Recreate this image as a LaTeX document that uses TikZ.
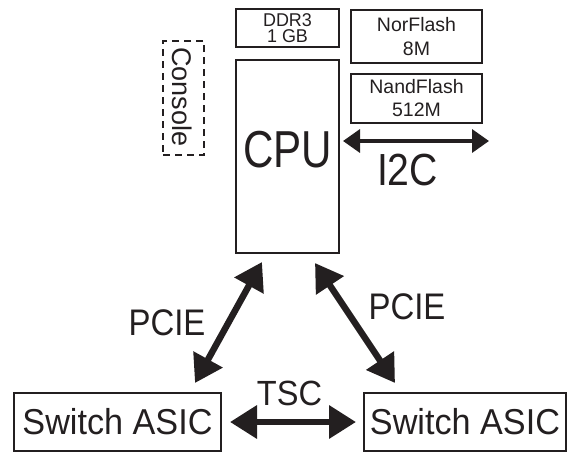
\documentclass[tikz,border=0pt]{standalone}
\usepackage{fontspec}
\usepackage{graphicx}
\setmainfont{Liberation Sans}
\usetikzlibrary{arrows.meta}
\definecolor{ink}{RGB}{35,31,32}
\newcommand{\fsz}[2]{\fontsize{#1}{#2}\selectfont}
\begin{document}
\begin{tikzpicture}[x=1pt,y=-1pt,
  box/.style={draw=ink, line width=2pt, inner sep=0pt, text=ink, align=center},
  lbl/.style={text=ink, inner sep=0pt, anchor=base},
  bigarrow/.style={draw=ink, line width=6.5pt, {Triangle[length=27pt,width=32pt]}-{Triangle[length=27pt,width=32pt]}},
  smallarrow/.style={draw=ink, line width=3.5pt, {Triangle[length=17pt,width=23pt]}-{Triangle[length=17pt,width=23pt]}}
]
\useasboundingbox (0,0) rectangle (568,451);
% memory boxes
\node[box, minimum width=103pt, minimum height=38pt, font=\fsz{18.5}{16}] (ddr) at (287.5,28) {\scalebox{0.97}[1]{DDR3}\\\scalebox{0.97}[1]{1 GB}};
\node[box, minimum width=131pt, minimum height=53pt, font=\fsz{19.5}{24}] (nor) at (416.5,36.5) {NorFlash\\8M};
\node[box, minimum width=131pt, minimum height=49pt, font=\fsz{19.5}{23}] (nand) at (416.5,98.5) {NandFlash\\512M};
% CPU
\node[box, minimum width=103pt, minimum height=193pt] (cpu) at (287.5,156.5) {};
\node[lbl, font=\fsz{52}{52}] (cputxt) at (287.5,167) {\scalebox{0.81}[1]{CPU}};
% Console
\node[draw=ink, line width=2.2pt, dash pattern=on 7pt off 5pt, minimum width=41pt, minimum height=114pt, inner sep=0pt] (conbox) at (183.5,98) {};
\node[lbl, rotate=-90, font=\fsz{27}{27}] (con) at (172,97) {Console};
% I2C
\coordinate (i2cL) at (343,141);
\coordinate (i2cR) at (489,141);
\draw[smallarrow] (i2cL) -- (i2cR);
\node[lbl, font=\fsz{45}{45}] (i2c) at (407.5,185) {\scalebox{0.87}[1]{I2C}};
% switches
\node[box, minimum width=207pt, minimum height=58pt, font=\fsz{36}{36}] (swL) at (117.5,422) {\scalebox{0.95}[1]{Switch ASIC}};
\node[box, minimum width=202pt, minimum height=58pt, font=\fsz{36}{36}] (swR) at (465,422) {\scalebox{0.95}[1]{Switch ASIC}};
% TSC
\draw[bigarrow, shorten <=8pt, shorten >=7pt] (swL) -- (swR);
\node[lbl, font=\fsz{35}{35}] (tsc) at (289.5,405) {\scalebox{0.93}[1]{TSC}};
% PCIE
\coordinate (pl1) at (262,262);
\coordinate (pl2) at (195,383);
\coordinate (pr1) at (315,263);
\coordinate (pr2) at (395,383);
\draw[bigarrow] (pl1) -- (pl2);
\draw[bigarrow] (pr1) -- (pr2);
\node[lbl, font=\fsz{37}{37}] (pcieL) at (167,335) {\scalebox{0.89}[1]{PCIE}};
\node[lbl, font=\fsz{37}{37}] (pcieR) at (407,319) {\scalebox{0.89}[1]{PCIE}};
\end{tikzpicture}
\end{document}
